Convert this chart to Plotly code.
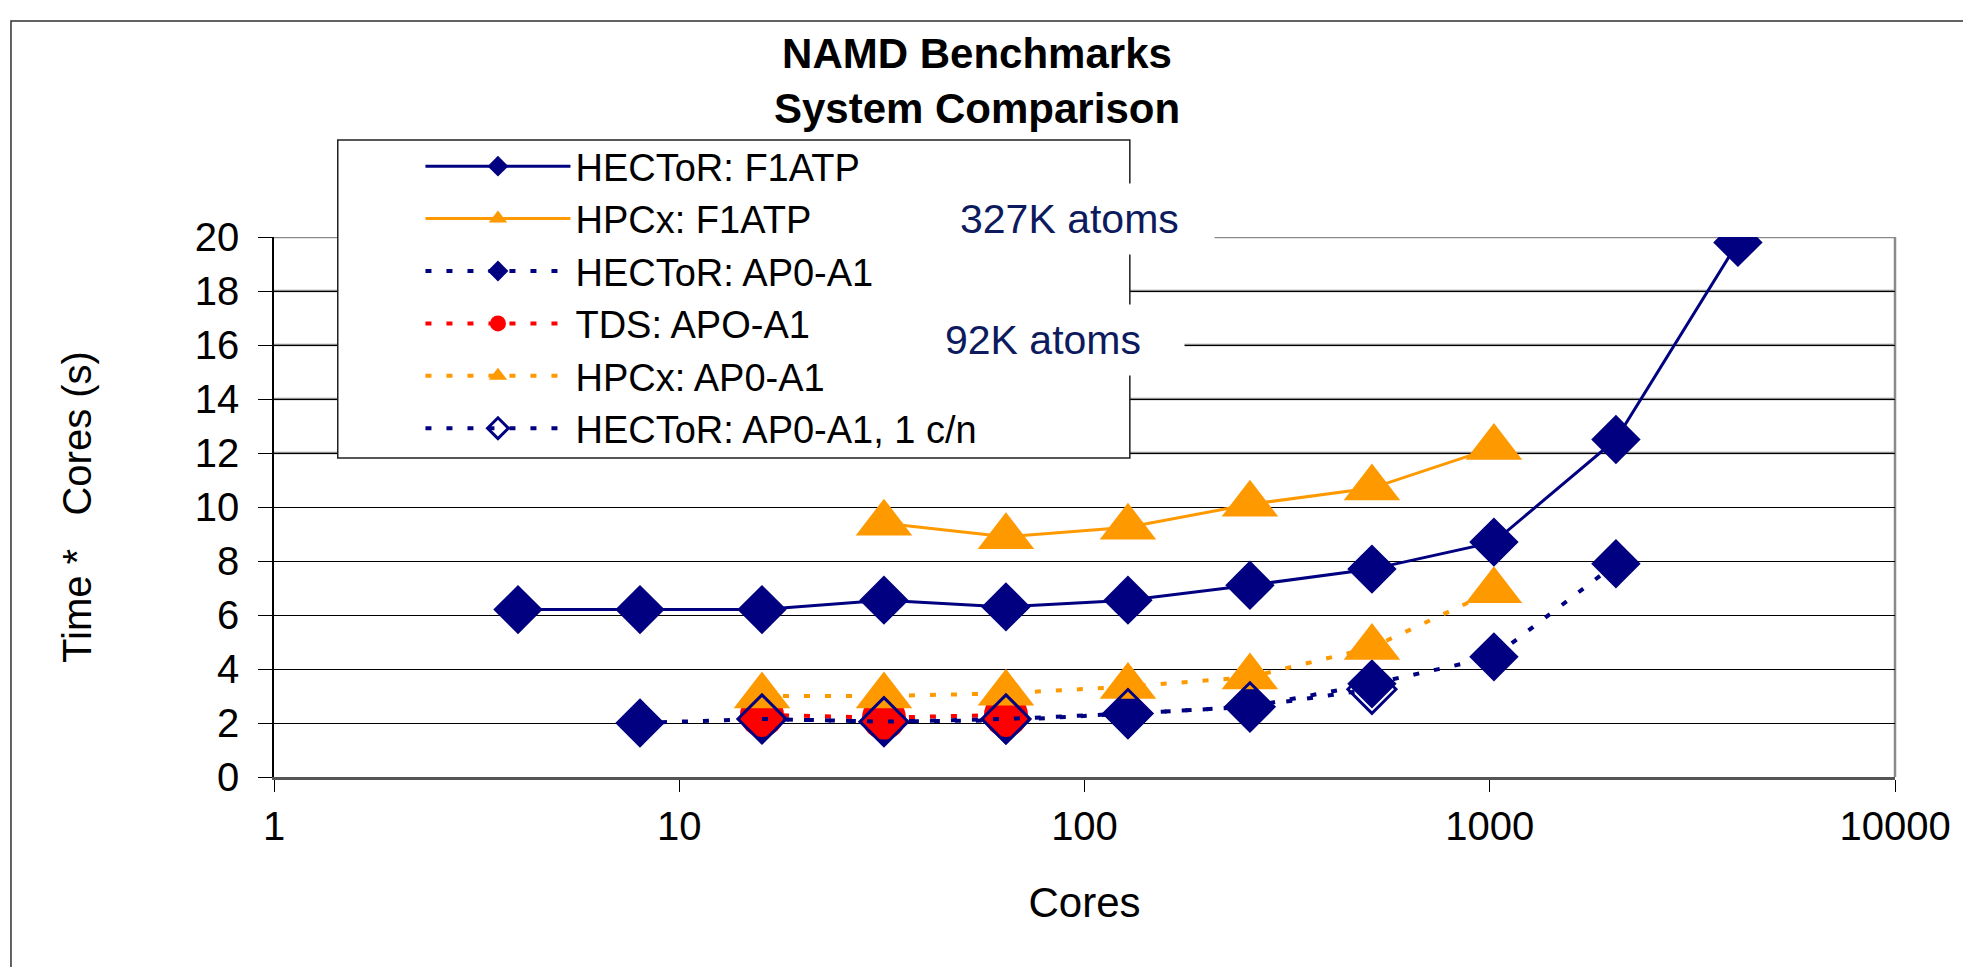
import plotly.graph_objects as go

# ---------------- data ----------------
cores_f1atp_hector = [4, 8, 16, 32, 64, 128, 256, 512, 1024, 2048, 4096]
hector_f1atp = [6.2, 6.2, 6.2, 6.55, 6.3, 6.55, 7.1, 7.7, 8.7, 12.5, 19.8]

cores_f1atp_hpcx = [32, 64, 128, 256, 512, 1024]
hpcx_f1atp = [9.4, 8.9, 9.25, 10.1, 10.7, 12.2]

cores_apo_hector = [8, 16, 32, 64, 128, 256, 512, 1024, 2048]
hector_apo = [2.0, 2.15, 2.05, 2.1, 2.35, 2.6, 3.45, 4.45, 7.9]

cores_apo_tds = [16, 32, 64]
tds_apo = [2.3, 2.2, 2.3]

cores_apo_hpcx = [16, 32, 64, 128, 256, 512, 1024]
hpcx_apo = [3.0, 3.0, 3.1, 3.35, 3.7, 4.8, 6.9]

cores_apo_hector_1cn = [16, 32, 64, 128, 256, 512]
hector_apo_1cn = [2.15, 2.05, 2.15, 2.35, 2.6, 3.25]

series_names = ["HECToR: F1ATP", "HPCx: F1ATP", "HECToR: AP0-A1", "TDS: APO-A1",
                "HPCx: AP0-A1", "HECToR: AP0-A1, 1 c/n"]

x_tick_vals = [1, 10, 100, 1000, 10000]
x_tick_text = ["1", "10", "100", "1000", "10000"]
y_tick_vals = [0, 2, 4, 6, 8, 10, 12, 14, 16, 18, 20]
gray_grid_vals = [12, 14, 16, 18, 20]

title_text = "<b>NAMD Benchmarks<br>System Comparison</b>"
x_title = "Cores"
y_title = "Time *\u00a0\u00a0 Cores (s)"
note_f1atp = "327K atoms"
note_apo = "92K atoms"

# ---------------- styles ----------------
NAVY = "#000080"
ORANGE = "#FF9900"
RED = "#FF0000"
DOT = "6px,15px"
FONT = "Liberation Sans, Arial, sans-serif"

W, H = 1963, 967
L, R, T, B = 274, 62, 237, 190
PW, PH = W - L - R, H - T - B


def px_x(px):
    return (px - L) / PW


def px_y(py):
    return (H - B - py) / PH


fig = go.Figure()

fig.add_trace(go.Scatter(
    x=cores_f1atp_hector, y=hector_f1atp, name=series_names[0], mode="lines+markers",
    line=dict(color=NAVY, width=3),
    marker=dict(symbol="diamond", size=38, color=NAVY)))
fig.add_trace(go.Scatter(
    x=cores_f1atp_hpcx, y=hpcx_f1atp, name=series_names[1], mode="lines+markers",
    line=dict(color=ORANGE, width=3),
    marker=dict(symbol="triangle-up", size=49, color=ORANGE)))
fig.add_trace(go.Scatter(
    x=cores_apo_hector, y=hector_apo, name=series_names[2], mode="lines+markers",
    line=dict(color=NAVY, width=4, dash=DOT),
    marker=dict(symbol="diamond", size=38, color=NAVY)))
fig.add_trace(go.Scatter(
    x=cores_apo_tds, y=tds_apo, name=series_names[3], mode="lines+markers",
    line=dict(color=RED, width=4, dash=DOT),
    marker=dict(symbol="circle", size=44, color=RED)))
fig.add_trace(go.Scatter(
    x=cores_apo_hpcx, y=hpcx_apo, name=series_names[4], mode="lines+markers",
    line=dict(color=ORANGE, width=4, dash=DOT),
    marker=dict(symbol="triangle-up", size=49, color=ORANGE)))
fig.add_trace(go.Scatter(
    x=cores_apo_hector_1cn, y=hector_apo_1cn, name=series_names[5], mode="lines+markers",
    line=dict(color=NAVY, width=4, dash=DOT),
    marker=dict(symbol="diamond-open", size=37, color=NAVY, line=dict(color=NAVY, width=3))))

shapes = []
# outer chart border
shapes.append(dict(type="rect", xref="paper", yref="paper",
                   x0=px_x(10), x1=px_x(W + 20), y0=px_y(H + 20), y1=px_y(21),
                   line=dict(color="#303030", width=1.5), fillcolor="rgba(0,0,0,0)", layer="below"))
# gray upper grid lines
for gv in gray_grid_vals:
    shapes.append(dict(type="line", xref="paper", yref="y", x0=0, x1=1, y0=gv, y1=gv,
                       line=dict(color="#8a8a8a", width=2.5), layer="between"))
# gray plot-area frame (right side)
shapes.append(dict(type="line", xref="paper", yref="paper", x0=1, x1=1, y0=0, y1=1,
                   line=dict(color="#8a8a8a", width=2.5), layer="between"))
# legend box
shapes.append(dict(type="rect", xref="paper", yref="paper",
                   x0=px_x(338), x1=px_x(1133), y0=px_y(458), y1=px_y(140),
                   line=dict(color="#202020", width=1.5), fillcolor="white", layer="above"))

annotations = [
    dict(text=note_f1atp, xref="paper", yref="paper", x=px_x(962), y=px_y(219),
         xanchor="left", yanchor="middle", showarrow=False, align="left",
         width=254, height=70, borderpad=0, bgcolor="white",
         font=dict(family=FONT, size=41, color="#0d1b5e")),
    dict(text=note_apo, xref="paper", yref="paper", x=px_x(946), y=px_y(340),
         xanchor="left", yanchor="middle", showarrow=False, align="left",
         width=239, height=70, borderpad=0, bgcolor="white",
         font=dict(family=FONT, size=41, color="#0d1b5e")),
]

fig.update_layout(
    width=W, height=H,
    margin=dict(l=L, r=R, t=T, b=B, pad=0),
    paper_bgcolor="white", plot_bgcolor="white",
    font=dict(family=FONT, color="black"),
    title=dict(text=title_text, x=977 / W, xanchor="center", y=1 - 68 / H, yanchor="top",
               font=dict(family=FONT, size=42, color="black")),
    showlegend=True,
    legend=dict(x=px_x(421), xanchor="left", y=px_y(135), yanchor="top",
                bgcolor="rgba(0,0,0,0)", borderwidth=0, itemwidth=145,
                font=dict(family=FONT, size=38, color="black"),
                tracegroupgap=0, itemclick=False),
    shapes=shapes,
    annotations=annotations,
)

fig.update_xaxes(
    type="log", range=[0, 4], tickmode="array", tickvals=x_tick_vals, ticktext=x_tick_text,
    showgrid=False, zeroline=False, showline=True, linecolor="#555555", linewidth=2.5,
    ticks="outside", ticklen=12, tickwidth=1, tickcolor="black",
    tickfont=dict(family=FONT, size=40, color="black"), ticklabelstandoff=0,
    title=dict(text=x_title, font=dict(family=FONT, size=42, color="black"), standoff=41),
)
fig.update_yaxes(
    range=[0, 20], tickmode="array", tickvals=y_tick_vals,
    showgrid=True, gridcolor="black", gridwidth=1, zeroline=False,
    showline=True, linecolor="black", linewidth=1.5,
    ticks="outside", ticklen=14, tickwidth=1, tickcolor="black",
    tickfont=dict(family=FONT, size=40, color="black"), ticklabelstandoff=11,
    title=dict(text=y_title, font=dict(family=FONT, size=40, color="black"), standoff=91),
)

fig.write_html("out.html")
